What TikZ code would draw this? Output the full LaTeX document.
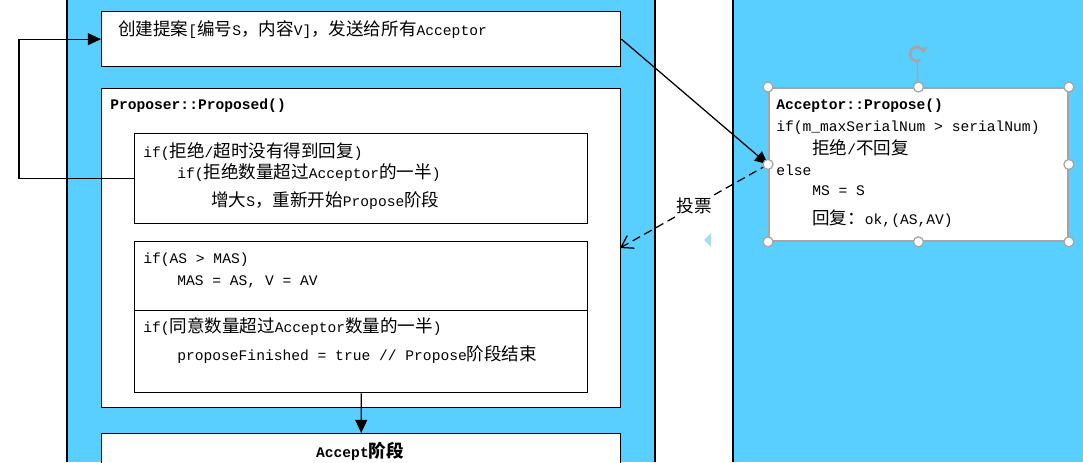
\documentclass[tikz,border=0pt]{standalone}
\usepackage{fontspec}
\setmainfont{Liberation Mono}
\newfontfamily\cjk[Scale=1.2]{Noto Sans CJK SC}
\newcommand{\zh}[1]{{\cjk #1}}
\usetikzlibrary{arrows.meta,calc}
\definecolor{panelblue}{RGB}{88,207,255}
\definecolor{handlegray}{RGB}{165,165,165}
\definecolor{tipblue}{RGB}{170,220,240}

\begin{document}
\begin{tikzpicture}[x=0.025cm, y=-0.025cm,
        box/.style={draw, fill=white, line width=0.9pt, anchor=north west, inner sep=0pt},
        code/.style={anchor=west, inner sep=0pt, font=\fontsize{10.4}{12}\selectfont},
        codebold/.style={code, font=\fontsize{10.4}{12}\selectfont\bfseries},
        handle/.style={circle, draw=handlegray, fill=white, line width=0.9pt, inner sep=0pt, minimum size=0.25cm},
        flow/.style={line width=0.9pt, -{Triangle[length=0.33cm, width=0.3cm]}},
        reply/.style={line width=0.9pt, dash pattern=on 6pt off 3.5pt, -{Straight Barb[length=0.28cm, width=0.36cm]}}]
        \useasboundingbox (0,0) rectangle (1083,462);

        % Panels.
        \fill[panelblue] (67,0) rectangle (655,462);
        \fill[panelblue] (733,0) rectangle (1083,462);
        \draw[line width=0.9pt] (67,0) -- (67,462) (655,0) -- (655,462) (733,0) -- (733,462);
        \fill[tipblue] (711,233) -- (704,240) -- (711,247) -- cycle;

        % Create proposal.
        \node[box, minimum width=12.975cm, minimum height=1.375cm] (create) at (101,11) {};
        \node[code] (createtxt) at (118,30) {\zh{创建提案}[\zh{编号}S\zh{，内容}V]\zh{，发送给所有}Acceptor};

        % Proposer::Proposed().
        \node[box, minimum width=12.975cm, minimum height=7.975cm] (proposer) at (101,88) {};
        \node[codebold] (proptitle) at (110,106) {Proposer::Proposed()};

        \node[box, minimum width=11.325cm, minimum height=2.25cm] (reject) at (134,133) {};
        \node[code] (rejecta) at (143,152) {if(\zh{拒绝}/\zh{超时没有得到回复})};
        \node[code] (rejectb) at (177,173) {if(\zh{拒绝数量超过}Acceptor\zh{的一半})};
        \node[code] (rejectc) at (211,201) {\zh{增大}S\zh{，重新开始}Propose\zh{阶段}};

        \node[box, minimum width=11.325cm, minimum height=1.725cm] (compare) at (134,241) {};
        \node[code] (comparea) at (143,260) {if(AS > MAS)};
        \node[code] (compareb) at (177,282) {MAS = AS, V = AV};

        \node[box, minimum width=11.325cm, minimum height=2.05cm] (agree) at (134,310) {};
        \node[code] (agreea) at (143,327) {if(\zh{同意数量超过}Acceptor\zh{数量的一半})};
        \node[code] (agreeb) at (177,355) {proposeFinished = true // Propose\zh{阶段结束}};

        % Accept.
        \node[box, minimum width=12.975cm, minimum height=1.5cm] (accept) at (101,433) {};
        \node[codebold, anchor=center] (accepttxt) at (360,451) {Accept\zh{阶段}};

        % Acceptor::Propose().
        \node[box, draw=handlegray, line width=1.3pt, minimum width=7.475cm, minimum height=3.825cm] (acceptor) at (768,87) {};
        \node[codebold] (acctitle) at (776,106) {Acceptor::Propose()};
        \node[code] (acca) at (776,128) {if(m\_maxSerialNum > serialNum)};
        \node[code] (accb) at (812,148) {\zh{拒绝}/\zh{不回复}};
        \node[code] (accc) at (776,170) {else};
        \node[code] (accd) at (812,191) {MS = S};
        \node[code] (acce) at (812,219) {\zh{回复：}ok,(AS,AV)};

        % Connectors.
        \coordinate (vote) at (620,248);
        \draw[flow] (reject.west) -- ++(-115,0) |- (create.west);
        \draw[flow] (create.east) -- (acceptor.west);
        \draw[reply] (acceptor.west) -- node[fill=white, inner sep=1pt, font=\fontsize{10.4}{12}\selectfont] (votetxt) {\zh{投票}} (vote);
        \draw[flow] (agree.south) -- (accept.north);

        % Handles.
        \coordinate (rot) at (917,54);
        \draw[handlegray, line width=0.9pt] (acceptor.north) -- (917,62);
        \draw[handlegray, line width=2pt, -{Triangle[length=0.13cm, width=0.22cm]}] ($(rot)+(60:7)$) arc[start angle=60, end angle=350, radius=7];
        \foreach \a in {north west, north, north east, east, south east, south, south west, west}
            \node[handle] (h-\a) at (acceptor.\a) {};
\end{tikzpicture}
\end{document}
